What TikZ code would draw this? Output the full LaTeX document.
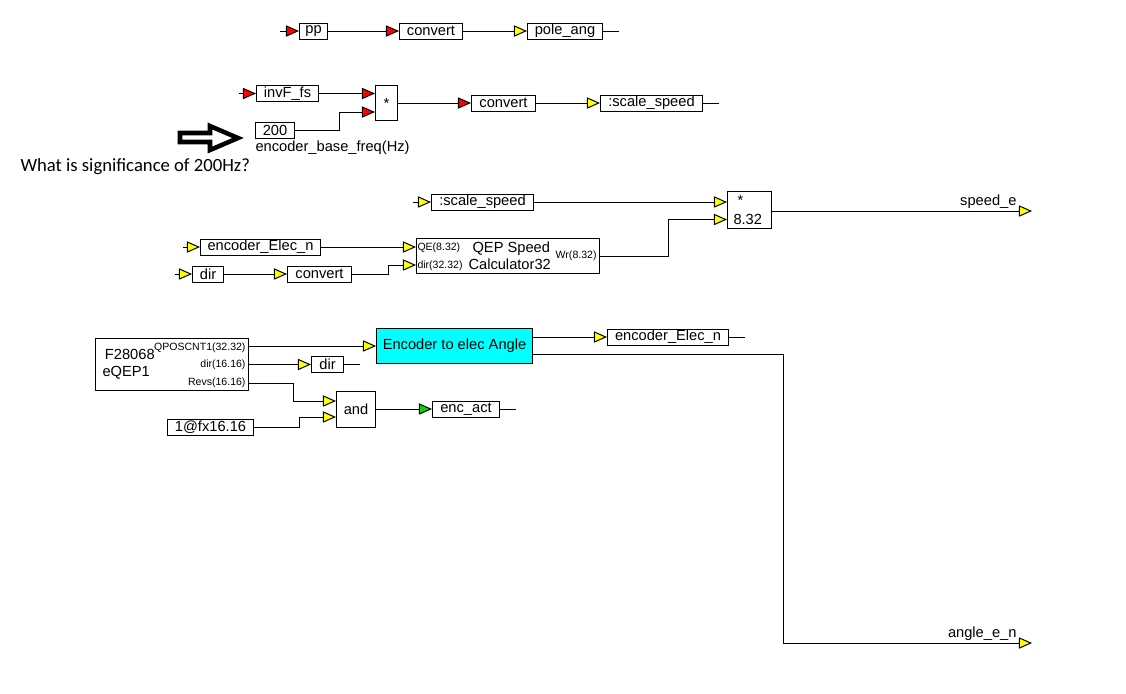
\documentclass[tikz,border=0pt]{standalone}
\usepackage{fontspec}
\setmainfont{Liberation Sans}
\newfontfamily\notefont{Carlito}
\usetikzlibrary{arrows.meta,positioning}
\definecolor{pinred}{rgb}{1,0,0}
\definecolor{pinyellow}{rgb}{1,1,0}
\definecolor{pingreen}{rgb}{0,0.85,0}
\definecolor{blockcyan}{rgb}{0,1,1}
\tikzstyle{block} = [rectangle, draw, inner sep=0pt, minimum height=12pt, font=\fontsize{11}{13}\selectfont]
\tikzstyle{port} = [inner sep=0pt, font=\fontsize{7.9}{9}\selectfont]
\tikzstyle{rin} = [-{Triangle[length=9.8pt,width=8.4pt,fill=pinred]}]
\tikzstyle{yin} = [-{Triangle[length=9.8pt,width=8.4pt,fill=pinyellow]}]
\tikzstyle{gin} = [-{Triangle[length=9.8pt,width=8.4pt,fill=pingreen]}]

\begin{document}
\begin{tikzpicture}[x=0.75pt, y=-0.75pt, line width=0.75pt]
  \useasboundingbox (0,0) rectangle (1126,693);
  % pole pairs
  \node[block, anchor=west, minimum width=28*0.75pt] (pp) at (299,31) {pp};
  \node[block, anchor=west, minimum width=63*0.75pt] (cv1) at (399,31) {convert};
  \node[block, anchor=west, minimum width=75*0.75pt] (pole) at (527,31) {pole\_ang};
  \draw[rin] (pp.west) ++(-19,0) -- (pp.west);
  \draw[rin] (pp) -- (cv1);
  \draw[yin] (cv1) -- (pole);
  \draw (pole.east) -- ++(16,0);
  % speed scaling
  \node[block, anchor=west, minimum width=62*0.75pt] (invf) at (256,93.5) {invF\_fs};
  \node[block, anchor=north west, minimum width=22*0.75pt, minimum height=35*0.75pt] (mul1) at (375,85) {*};
  \node[block, anchor=west, minimum width=39*0.75pt] (base) at (255,130) {200};
  \node[anchor=north west, inner sep=0pt, font=\fontsize{11}{13}\selectfont] (basetxt) at (255,140) {encoder\_base\_freq(Hz)};
  \node[block, anchor=west, minimum width=64*0.75pt] (cv2) at (471,103) {convert};
  \node[block, anchor=west, minimum width=102*0.75pt] (ss1) at (600,103) {:scale\_speed};
  \draw[rin] (invf.west) ++(-17,0) -- (invf.west);
  \draw[rin] (invf) -- (invf -| mul1.west);
  \draw[rin] (base.east) -- ++(44,0) |- (mul1.west |- 0,112);
  \draw[rin] (mul1.east |- cv2.west) -- (cv2.west);
  \draw[yin] (cv2) -- (ss1);
  \draw (ss1.east) -- ++(16,0);
  % question
  \draw[line width=3.4pt] (180,133) -- (210,133) -- (210,126) -- (238,138) -- (210,150) -- (210,142) -- (180,142) -- cycle;
  \node[anchor=west, inner sep=0pt, font=\notefont\fontsize{14}{16}\selectfont] (note) at (20,166.5) {What is significance of 200Hz?};
  % speed calculation
  \node[block, anchor=west, minimum width=102*0.75pt] (ss2) at (431,202) {:scale\_speed};
  \node[block, anchor=north west, minimum width=44*0.75pt, minimum height=37*0.75pt] (mul2) at (727,191) {};
  \node[port, font=\fontsize{11}{13}\selectfont, anchor=west] (mul2op) at (737,200) {*};
  \node[port, font=\fontsize{11}{13}\selectfont, anchor=west] (mul2q) at (733,219.5) {8.32};
  \node[block, anchor=west, minimum width=120*0.75pt] (encn1) at (200,247) {encoder\_Elec\_n};
  \node[block, anchor=west, minimum width=31*0.75pt] (dir1) at (192,274) {dir};
  \node[block, anchor=west, minimum width=64*0.75pt] (cv3) at (287,274) {convert};
  \node[block, anchor=north west, minimum width=183*0.75pt, minimum height=35*0.75pt] (qep) at (416,238) {};
  \node[port, anchor=west] (qepqe) at (417,247.5) {QE(8.32)};
  \node[port, anchor=west] (qepdir) at (417,266) {dir(32.32)};
  \node[port, anchor=east] (qepwr) at (597,256) {Wr(8.32)};
  \node[anchor=west, inner sep=0pt, font=\fontsize{11}{13}\selectfont, align=left] (qeptxt) at (468,256) {\ QEP Speed\\Calculator32};
  \coordinate (spdout) at (1032,211);
  \node[anchor=east, inner sep=0pt, font=\fontsize{11}{13}\selectfont] (spdtxt) at (1017,202) {speed\_e};
  \draw[yin] (ss2.west) ++(-18,0) -- (ss2.west);
  \draw[yin] (ss2) -- (ss2 -| mul2.west);
  \draw[yin] (qep.east |- 0,256) -- ++(68,0) |- (mul2.west |- 0,219.5);
  \draw[yin] (mul2.east |- spdout) -- (spdout);
  \draw[yin] (encn1.west) ++(-17,0) -- (encn1.west);
  \draw[yin] (encn1) -- (encn1 -| qep.west);
  \draw[yin] (dir1.west) ++(-17,0) -- (dir1.west);
  \draw[yin] (dir1) -- (cv3);
  \draw[yin] (cv3.east) -- ++(36,0) |- (qep.west |- 0,265);
  % encoder
  \node[block, anchor=north west, minimum width=153*0.75pt, minimum height=52*0.75pt] (eqep) at (95,338) {};
  \node[anchor=west, inner sep=0pt, font=\fontsize{11}{13}\selectfont, align=left] (eqeptxt) at (102,364.5) {\,F28068\\eQEP1};
  \node[block, anchor=north west, minimum width=156*0.75pt, minimum height=35*0.75pt, fill=blockcyan] (enc) at (376,328) {Encoder to elec Angle};
  \node[port, anchor=east] (eqeppos) at (246,347.5) {QPOSCNT1(32.32)};
  \node[port, anchor=east] (eqepdir) at (246,365) {dir(16.16)};
  \node[port, anchor=east] (eqeprevs) at (246,383) {Revs(16.16)};
  \node[block, anchor=west, minimum width=32*0.75pt] (dir2) at (311,364.5) {dir};
  \node[block, anchor=north west, minimum width=39*0.75pt, minimum height=36*0.75pt] (and) at (336,391) {and};
  \node[block, anchor=west, minimum width=86*0.75pt] (one) at (167,427) {1@fx16.16};
  \node[block, anchor=west, minimum width=67*0.75pt] (act) at (432,409) {enc\_act};
  \node[block, anchor=west, minimum width=121*0.75pt] (encn2) at (607,337) {encoder\_Elec\_n};
  \coordinate (angout) at (1032,643);
  \node[anchor=east, inner sep=0pt, font=\fontsize{11}{13}\selectfont] (angtxt) at (1017,634) {angle\_e\_n};
  \draw[yin] (eqep.east |- enc.west) -- (enc.west);
  \draw[yin] (eqep.east |- dir2.west) -- (dir2.west);
  \draw (dir2.east) -- ++(16,0);
  \draw[yin] (eqep.east |- 0,383) -- ++(44,0) |- (and.west |- 0,401);
  \draw[yin] (one.east) -- ++(45,0) |- (and.west |- 0,417);
  \draw[gin] (and.east |- act.west) -- (act.west);
  \draw (act.east) -- ++(16,0);
  \draw[yin] (enc.east |- encn2.west) -- (encn2.west);
  \draw (encn2.east) -- ++(16,0);
  \draw[yin] (enc.east |- 0,354.5) -- ++(250,0) |- (angout);
\end{tikzpicture}
\end{document}
